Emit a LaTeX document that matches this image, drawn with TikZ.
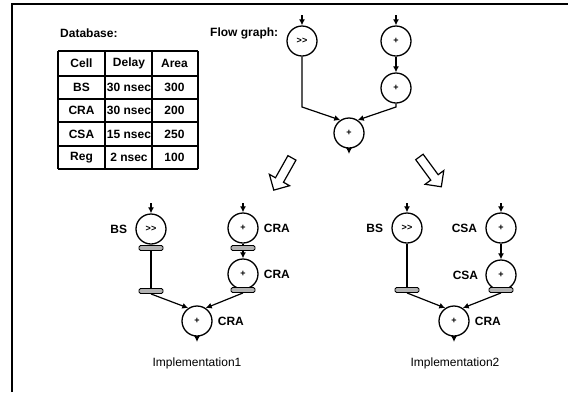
\documentclass[tikz,border=0pt]{standalone}
\usepackage{fontspec}
\setmainfont{Liberation Sans}
\usetikzlibrary{arrows.meta,positioning,shapes.arrows}

\begin{document}
\begin{tikzpicture}[
    x=1pt, y=-1pt,
    font=\fontsize{12}{14}\selectfont,
    opnode/.style={draw, circle, line width=1.3pt, minimum size=30pt, inner sep=0pt,
      font=\fontsize{9}{10}\selectfont\bfseries},
    regbox/.style={draw, fill=gray!60, rounded corners=1.5pt, line width=0.9pt,
      minimum width=24pt, minimum height=5pt, inner sep=0pt},
    unitlbl/.style={font=\fontsize{12}{14}\selectfont\bfseries, inner sep=2pt},
    titlelbl/.style={font=\fontsize{12}{14}\selectfont\bfseries, anchor=west, inner sep=0pt},
    celllbl/.style={font=\fontsize{12}{14}\selectfont\bfseries, inner sep=0pt},
    impllbl/.style={inner sep=0pt},
    wire/.style={line width=1.2pt},
    flow/.style={wire, -{Latex[length=6pt,width=6pt]}},
    bigarrow/.style={draw, single arrow, line width=1.2pt, minimum height=37pt,
      single arrow head extend=7pt, inner ysep=4pt, inner xsep=0pt},
    tabline/.style={line width=1.1pt},
    frameline/.style={line width=1.4pt}
  ]
  \useasboundingbox (0,0) rectangle (568,392);
  \draw[frameline] (12,392) -- (12,4) -- (568,4);

  \node[titlelbl] (dbtitle) at (60,33) {Database:};
  \node[titlelbl] (fgtitle) at (210,33) {Flow graph:};

  \foreach \x in {58,105,152,198}
    \draw[tabline] (\x,51) -- (\x,169);
  \foreach \y in {51,99,122,146,169}
    \draw[tabline] (58,\y) -- (198,\y);
  \draw[tabline, line width=2.2pt] (58,76) -- (198,76);
  \foreach \cell/\delay/\area/\y [count=\r] in {%
    Cell/Delay/Area/63.5,
    BS/30 nsec/300/87.5,
    CRA/30 nsec/200/110.5,
    CSA/15 nsec/250/134,
    Reg/2 nsec/100/157.5%
  }{
    \node[celllbl] (cell\r) at (81.5,\y) {\cell};
    \node[celllbl] (delay\r) at (129,\y) {\delay};
    \node[celllbl] (area\r) at (174.5,\y) {\area};
  }

  \node[opnode] (fgshift) at (302,41) {>{}>};
  \node[opnode] (fgadda) at (396,41) {+};
  \node[opnode] (fgaddb) at (396,88) {+};
  \node[opnode] (fgaddc) at (349,133) {+};
  \coordinate (fgina) at (302,15);
  \coordinate (fginb) at (396,15);
  \coordinate (fgbendl) at (302,107);
  \coordinate (fgbendr) at (396,107);
  \coordinate (fgout) at (349,154);
  \draw[flow] (fgina) -- (fgshift);
  \draw[flow] (fginb) -- (fgadda);
  \draw[flow] (fgadda) -- (fgaddb);
  \draw[flow] (fgshift) -- (fgbendl) -- (fgaddc.124);
  \draw[flow] (fgaddb) -- (fgbendr) -- (fgaddc.56);
  \draw[flow] (fgaddc) -- (fgout);

  \node[bigarrow, rotate=240.6] (splitl) at (284,172) {};
  \node[bigarrow, rotate=-53.7] (splitr) at (429,170) {};

  \node[opnode] (shift1) at (151,229) {>{}>};
  \node[opnode] (cra1a) at (243,228) {+};
  \node[opnode] (cra1b) at (243,274) {+};
  \node[opnode] (cra1c) at (197,321) {+};
  \node[regbox] (reg1a) at (151,248) {};
  \node[regbox] (reg1b) at (151,291) {};
  \node[regbox] (reg1c) at (243,248) {};
  \node[regbox] (reg1d) at (243,290) {};
  \coordinate (in1a) at (151,203);
  \coordinate (in1b) at (243,203);
  \coordinate (out1) at (197,342);
  \draw[flow] (in1a) -- (shift1);
  \draw[flow] (in1b) -- (cra1a);
  \draw[wire] (shift1) -- (reg1a) -- (reg1b);
  \draw[wire] (cra1a) -- (reg1c);
  \draw[flow] (reg1c) -- (cra1b);
  \draw[flow] (reg1b.south) -- (cra1c.124);
  \draw[flow] (reg1d.south) -- (cra1c.56);
  \draw[flow] (cra1c) -- (out1);
  \node[unitlbl, left=6pt of shift1] (bs1) {BS};
  \node[unitlbl, right=3pt of cra1a] (cra1albl) {CRA};
  \node[unitlbl, right=3pt of cra1b] (cra1blbl) {CRA};
  \node[unitlbl, right=3pt of cra1c] (cra1clbl) {CRA};
  \node[impllbl] (impl1) at (197,363) {Implementation1};

  \node[opnode] (shift2) at (407,228) {>{}>};
  \node[opnode] (csa2a) at (501,228) {+};
  \node[opnode] (csa2b) at (501,275) {+};
  \node[opnode] (cra2c) at (454,321) {+};
  \node[regbox] (reg2a) at (407,290) {};
  \node[regbox] (reg2b) at (501,290) {};
  \coordinate (in2a) at (407,203);
  \coordinate (in2b) at (501,203);
  \coordinate (out2) at (454,342);
  \draw[flow] (in2a) -- (shift2);
  \draw[flow] (in2b) -- (csa2a);
  \draw[flow] (csa2a) -- (csa2b);
  \draw[wire] (shift2) -- (reg2a);
  \draw[flow] (reg2a.south) -- (cra2c.124);
  \draw[flow] (reg2b.south) -- (cra2c.56);
  \draw[flow] (cra2c) -- (out2);
  \node[unitlbl, left=6pt of shift2] (bs2) {BS};
  \node[unitlbl, left=6pt of csa2a] (csa2albl) {CSA};
  \node[unitlbl, left=5pt of csa2b] (csa2blbl) {CSA};
  \node[unitlbl, right=3pt of cra2c] (cra2clbl) {CRA};
  \node[impllbl] (impl2) at (455,363) {Implementation2};
\end{tikzpicture}
\end{document}
